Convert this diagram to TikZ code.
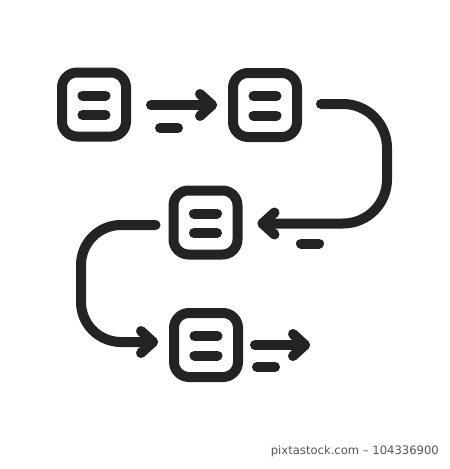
\documentclass[tikz,border=0pt]{standalone}
\usepackage{fontspec}
\setmainfont{DejaVu Sans}
\usetikzlibrary{calc}
\definecolor{ink}{HTML}{232323}
\definecolor{wmgray}{HTML}{555555}
\begin{document}
\begin{tikzpicture}[x=1pt,y=-1pt,
  box/.style={draw=ink,line width=10pt,rounded corners=15pt,minimum width=64pt,minimum height=64pt,inner sep=0pt},
  stroke/.style={draw=ink,line width=10pt,line cap=round,line join=round}]
\fill[white] (0,0) rectangle (450,469);
\useasboundingbox (0,0) rectangle (450,469);
% boxes
\node[box] (b1) at (94,104.5) {};
\node[box] (b2) at (265,105) {};
\node[box] (b3) at (205.5,222.5) {};
\node[box] (b4) at (206,345) {};
\foreach \b in {b1,b2,b3,b4}{
  \draw[stroke] ($(\b.center)+(-11.5,-9)$) -- ++(23,0);
  \draw[stroke] ($(\b.center)+(-11.5,10.5)$) -- ++(23,0);
}
% arrow 1: b1 -> b2
\coordinate (a1s) at ($(b1.east)+(20,0.5)$);
\coordinate (a1t) at ($(b2.west)+(-16,0)$);
\draw[stroke] (a1s) -- (a1t);
\draw[stroke] ($(a1t)+(-12,-11)$) -- (a1t) -- ($(a1t)+(-12,11)$);
\coordinate (d1s) at (160,128);
\coordinate (d1e) at (178,128);
\draw[stroke] (d1s) -- (d1e);
% arrow 2: b2 -> b3
\coordinate (a2s) at ($(b2.east)+(19,-1)$);
\coordinate (a2t) at ($(b3.east)+(20,1)$);
\draw[stroke,rounded corners=44pt] (a2s) -- (387,104) -- (387,223.5) -- (a2t);
\draw[stroke] ($(a2t)+(12,-11)$) -- (a2t) -- ($(a2t)+(12,11)$);
\coordinate (d2s) at (301,243.5);
\coordinate (d2e) at (319,243.5);
\draw[stroke] (d2s) -- (d2e);
% arrow 3: b3 -> b4
\coordinate (a3s) at ($(b3.west)+(-13,2.5)$);
\coordinate (a3t) at ($(b4.west)+(-16,-3)$);
\draw[stroke,rounded corners=40pt] (a3s) -- (81,225) -- (81,342) -- (a3t);
\draw[stroke] ($(a3t)+(-12,-11)$) -- (a3t) -- ($(a3t)+(-12,11)$);
% arrow 4: out of b4
\coordinate (a4s) at ($(b4.east)+(12,0)$);
\coordinate (a4t) at (305,345);
\draw[stroke] (a4s) -- (a4t);
\draw[stroke] ($(a4t)+(-12,-11)$) -- (a4t) -- ($(a4t)+(-12,11)$);
\coordinate (d4s) at (257,367);
\coordinate (d4e) at (275,367);
\draw[stroke] (d4s) -- (d4e);
% credit line
\node[text=wmgray,font=\fontsize{11.6}{13}\selectfont,anchor=east,inner sep=0pt] (credit) at (439,451) {pixtastock.com – 104336900};
\end{tikzpicture}
\end{document}
